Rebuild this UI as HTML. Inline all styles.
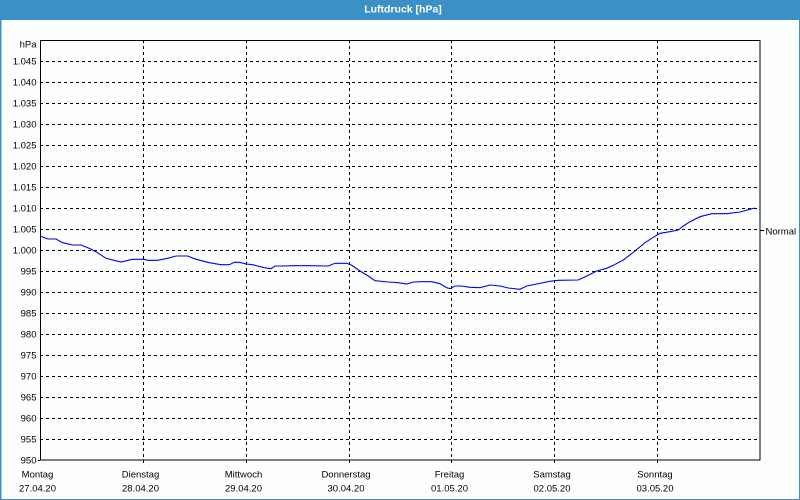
<!DOCTYPE html>
<html><head><meta charset="utf-8"><style>
html,body{margin:0;padding:0;background:#fdfffe;}
svg{display:block;font-family:"Liberation Sans",Arial,sans-serif;}
</style></head><body>
<svg width="800" height="500" viewBox="0 0 800 500" xmlns="http://www.w3.org/2000/svg">
<rect x="0" y="0" width="800" height="500" fill="#fdfffe"/>
<rect x="0" y="0" width="800" height="20" fill="#3b91c5"/>
<rect x="0.5" y="0.5" width="799" height="499" fill="none" stroke="#3b91c5" stroke-width="1"/>
<line x1="0.5" y1="20" x2="0.5" y2="500" stroke="#3b91c5" stroke-width="2"/>
<text x="403" y="12.5" font-size="10.5" font-weight="bold" fill="#ffffff" text-anchor="middle">Luftdruck [hPa]</text>

<g stroke="#000" stroke-width="1" stroke-dasharray="3,3" shape-rendering="crispEdges">
<line x1="40" y1="61.5" x2="760" y2="61.5"/>
<line x1="40" y1="82.5" x2="760" y2="82.5"/>
<line x1="40" y1="103.5" x2="760" y2="103.5"/>
<line x1="40" y1="124.5" x2="760" y2="124.5"/>
<line x1="40" y1="145.5" x2="760" y2="145.5"/>
<line x1="40" y1="166.5" x2="760" y2="166.5"/>
<line x1="40" y1="187.5" x2="760" y2="187.5"/>
<line x1="40" y1="208.5" x2="760" y2="208.5"/>
<line x1="40" y1="229.5" x2="760" y2="229.5"/>
<line x1="40" y1="250.5" x2="760" y2="250.5"/>
<line x1="40" y1="271.5" x2="760" y2="271.5"/>
<line x1="40" y1="292.5" x2="760" y2="292.5"/>
<line x1="40" y1="313.5" x2="760" y2="313.5"/>
<line x1="40" y1="334.5" x2="760" y2="334.5"/>
<line x1="40" y1="355.5" x2="760" y2="355.5"/>
<line x1="40" y1="376.5" x2="760" y2="376.5"/>
<line x1="40" y1="397.5" x2="760" y2="397.5"/>
<line x1="40" y1="418.5" x2="760" y2="418.5"/>
<line x1="40" y1="439.5" x2="760" y2="439.5"/>
<line x1="143.5" y1="40" x2="143.5" y2="460"/>
<line x1="246.5" y1="40" x2="246.5" y2="460"/>
<line x1="349.5" y1="40" x2="349.5" y2="460"/>
<line x1="451.5" y1="40" x2="451.5" y2="460"/>
<line x1="554.5" y1="40" x2="554.5" y2="460"/>
<line x1="657.5" y1="40" x2="657.5" y2="460"/>
</g>
<g stroke="#000" stroke-width="1" shape-rendering="crispEdges">
<rect x="40.5" y="40.5" width="719.5" height="419.5" fill="none" stroke-width="1.3"/>
<line x1="38" y1="460.5" x2="40" y2="460.5"/>
<line x1="143.5" y1="460" x2="143.5" y2="463"/>
<line x1="246.5" y1="460" x2="246.5" y2="463"/>
<line x1="349.5" y1="460" x2="349.5" y2="463"/>
<line x1="451.5" y1="460" x2="451.5" y2="463"/>
<line x1="554.5" y1="460" x2="554.5" y2="463"/>
<line x1="657.5" y1="460" x2="657.5" y2="463"/>
<line x1="760" y1="230.5" x2="764" y2="230.5"/>
</g>

<polyline fill="none" stroke="#0000ee" stroke-width="1.1" points="40,236 48,239 56,239 62.7,242.7 72.7,245 81,245 89,248.3 96,251.7 106,258.3 121,262 132.7,259.3 144.3,259.3 147.7,260.3 157.7,260.3 167.7,258.3 176,256 187.7,256 196,259.3 209.3,262.7 221,264.7 229.3,264.7 234.3,262.3 239.3,262.3 246,264 252.7,264.7 264.3,267.7 271,268.7 275,266 283.3,266 293.3,265.7 308.3,265.7 328.3,266 335,263.3 346.7,263.3 351.7,265.3 360,271 368.3,276 375,280.7 388.3,282 398.3,282.7 406.7,284 413.3,282 421.7,281.7 431.7,281.7 440,283.7 446.7,287.7 450,288.7 455,286 461.7,286 470,287.3 480,287.7 490,285 500,286 508.3,288 520,289.3 526.7,286 536.7,284 550,281.3 558.3,280.3 578.3,280 586.7,276 596.7,271 606.7,268.3 613.3,265.3 623.3,260 633.3,252.3 645,242.7 653.3,237.3 660,233.3 670,231.7 678.3,230 683.3,226 690,221.7 700,216.7 711.7,213.7 726.7,213.7 740,212 755,208"/>

<g font-size="9.5" fill="#000" text-anchor="end">
<text x="36.5" y="47.5">hPa</text>
<text x="36.5" y="64.5">1.045</text>
<text x="36.5" y="85.5">1.040</text>
<text x="36.5" y="106.5">1.035</text>
<text x="36.5" y="127.5">1.030</text>
<text x="36.5" y="148.5">1.025</text>
<text x="36.5" y="169.5">1.020</text>
<text x="36.5" y="190.5">1.015</text>
<text x="36.5" y="211.5">1.010</text>
<text x="36.5" y="232.5">1.005</text>
<text x="36.5" y="253.5">1.000</text>
<text x="36.5" y="274.5">995</text>
<text x="36.5" y="295.5">990</text>
<text x="36.5" y="316.5">985</text>
<text x="36.5" y="337.5">980</text>
<text x="36.5" y="358.5">975</text>
<text x="36.5" y="379.5">970</text>
<text x="36.5" y="400.5">965</text>
<text x="36.5" y="421.5">960</text>
<text x="36.5" y="442.5">955</text>
<text x="36.5" y="463.5">950</text>
</g>
<text x="765.5" y="234.5" font-size="9.5" fill="#000">Normal</text>

<g font-size="9.5" fill="#000" text-anchor="middle">
<text x="37.5" y="477.5">Montag</text>
<text x="37.5" y="491.5">27.04.20</text>
<text x="140.5" y="477.5">Dienstag</text>
<text x="140.5" y="491.5">28.04.20</text>
<text x="243.5" y="477.5">Mittwoch</text>
<text x="243.5" y="491.5">29.04.20</text>
<text x="346" y="477.5">Donnerstag</text>
<text x="346" y="491.5">30.04.20</text>
<text x="449.5" y="477.5">Freitag</text>
<text x="449.5" y="491.5">01.05.20</text>
<text x="552" y="477.5">Samstag</text>
<text x="552" y="491.5">02.05.20</text>
<text x="655" y="477.5">Sonntag</text>
<text x="655" y="491.5">03.05.20</text>
</g>
</svg>
</body></html>
